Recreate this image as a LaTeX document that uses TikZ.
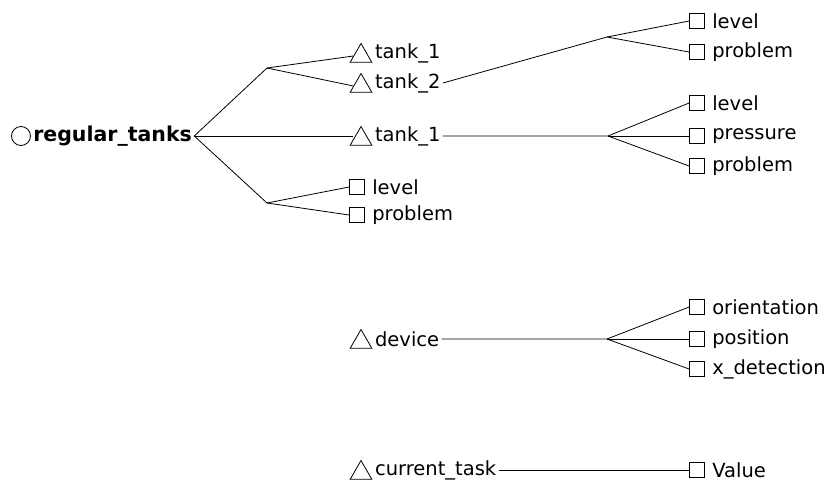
\documentclass[tikz,border=0pt]{standalone}
\usepackage{fontspec}
\setsansfont{DejaVu Sans}
\usepackage{tikz}
\usetikzlibrary{positioning, shapes.geometric}

\begin{document}
\begin{tikzpicture}[
  x=1pt, y=-1pt, line width=0.8pt,
  tri/.style={draw, regular polygon, regular polygon sides=3,
              minimum size=25pt, inner sep=0pt},
  box/.style={draw, minimum size=15pt, inner sep=0pt},
  ring/.style={draw, circle, minimum size=19pt, inner sep=0pt},
  lbl/.style={font=\fontsize{19.5}{21}\selectfont\sffamily, inner sep=2pt},
  tlbl/.style={lbl, yshift=3pt},
  rootlbl/.style={font=\fontsize{20.5}{23}\selectfont\sffamily\bfseries, inner sep=2pt},
  conn/.style={draw, line width=0.8pt}
]
  \useasboundingbox (0,0) rectangle (833,482);
  % root
  \node[ring] (R) at (21,136) {};
  \node[rootlbl, right=0pt of R] (Rt) {regular\_tanks};
  % first level
  \node[tri] (T1) at (361,56) {};
  \node[tlbl, right=4pt of T1] (T1t) {tank\_1};
  \node[tri] (T2) at (361,86) {};
  \node[tlbl, right=4pt of T2] (T2t) {tank\_2};
  \node[tri] (T3) at (361,139) {};
  \node[tlbl, right=4pt of T3] (T3t) {tank\_1};
  \node[box] (L1) at (357,187) {};
  \node[lbl, right=5pt of L1] (L1t) {level};
  \node[box] (P1) at (357,215) {};
  \node[lbl, right=5pt of P1] (P1t) {problem};
  \coordinate (J1) at (267,68);
  \coordinate (J2) at (267,203);
  \draw[conn] (Rt.east) -- (J1) -- (T1.west);
  \draw[conn] (J1) -- (T2.west);
  \draw[conn] (Rt.east) -- (T3.west |- Rt.east);
  \draw[conn] (Rt.east) -- (J2) -- (L1.west);
  \draw[conn] (J2) -- (P1.west);
  % tank_2 children
  \node[box] (A1) at (697,21) {};
  \node[lbl, right=5pt of A1] (A1t) {level};
  \node[box] (A2) at (697,52) {};
  \node[lbl, right=5pt of A2] (A2t) {problem};
  \coordinate (J3) at (607,37);
  \draw[conn] (T2t.east) -- (J3) -- (A1.west);
  \draw[conn] (J3) -- (A2.west);
  % tank_1 children
  \node[box] (B1) at (697,103) {};
  \node[lbl, right=5pt of B1] (B1t) {level};
  \node[box] (B2) at (697,136) {};
  \node[lbl, right=5pt of B2] (B2t) {pressure};
  \node[box] (B3) at (697,166) {};
  \node[lbl, right=5pt of B3] (B3t) {problem};
  \coordinate (J4) at (608,136);
  \draw[conn] (T3t.east) -- (J4) -- (B1.west);
  \draw[conn] (J4) -- (B2.west);
  \draw[conn] (J4) -- (B3.west);
  % device
  \node[tri] (D) at (361,342) {};
  \node[tlbl, right=4pt of D] (Dt) {device};
  \node[box] (O1) at (697,307) {};
  \node[lbl, right=5pt of O1] (O1t) {orientation};
  \node[box] (O2) at (697,339) {};
  \node[lbl, right=5pt of O2] (O2t) {position};
  \node[box] (O3) at (697,369) {};
  \node[lbl, right=5pt of O3] (O3t) {x\_detection};
  \coordinate (J5) at (607,339);
  \draw[conn] (Dt.east) -- (J5) -- (O1.west);
  \draw[conn] (J5) -- (O2.west);
  \draw[conn] (J5) -- (O3.west);
  % current task
  \node[tri] (C) at (361,473) {};
  \node[tlbl, right=4pt of C] (Ct) {current\_task};
  \node[box] (V) at (697,470) {};
  \node[lbl, right=5pt of V] (Vt) {Value};
  \draw[conn] (Ct.east) -- (V.west);
\end{tikzpicture}
\end{document}
